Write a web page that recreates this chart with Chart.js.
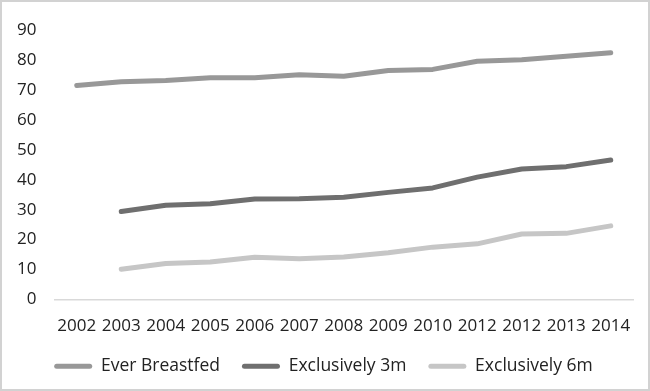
<!DOCTYPE html>
<html>
<head>
<meta charset="utf-8">
<script src="https://cdn.jsdelivr.net/npm/chart.js@4.4.0/dist/chart.umd.min.js"></script>
<style>
  html, body { margin: 0; padding: 0; background: #fff; }
  #wrap {
    width: 650px; height: 391px; box-sizing: border-box;
    border: 2px solid #d2d2d2; background: #fff;
  }
  canvas { display: block; }
</style>
</head>
<body>
<div id="wrap"><canvas id="myChart" width="646" height="387"></canvas></div>
<script>
const years = ['2002', '2003', '2004', '2005', '2006', '2007', '2008', '2009', '2010', '2012', '2012', '2013', '2014'];
const everBreastfed = [71.5, 72.8, 73.2, 74.1, 74.1, 75.1, 74.6, 76.5, 76.9, 79.6, 80.1, 81.3, 82.5];
const exclusively3m = [null, 29.4, 31.5, 32.0, 33.6, 33.7, 34.2, 35.8, 37.3, 40.9, 43.6, 44.4, 46.6];
const exclusively6m = [null, 10.1, 12.0, 12.5, 14.1, 13.6, 14.2, 15.6, 17.5, 18.6, 21.9, 22.1, 24.6];
const yTicks = [0, 10, 20, 30, 40, 50, 60, 70, 80, 90];

const font = "'Open Sans', 'Liberation Sans', sans-serif";

function series(label, data, color) {
    return {
        label: label,
        data: data,
        borderColor: color,
        backgroundColor: color,
        borderWidth: 5,
        borderCapStyle: 'round',
        borderJoinStyle: 'round',
        pointRadius: 0,
        tension: 0
    };
}

const ctx = document.getElementById('myChart');

new Chart(ctx, {
    type: 'line',
    data: {
        labels: years,
        datasets: [
            series('Ever Breastfed', everBreastfed, '#989898'),
            series('Exclusively 3m', exclusively3m, '#6f6f6f'),
            series('Exclusively 6m', exclusively6m, '#c6c6c6')
        ]
    },
    options: {
        responsive: false,
        animation: false,
        layout: {
            autoPadding: false,
            padding: { top: 19, left: 12, right: 15, bottom: 4 }
        },
        plugins: {
            tooltip: { enabled: false },
            legend: {
                position: 'bottom',
                labels: {
                    boxWidth: 38,
                    boxHeight: 5,
                    padding: 22,
                    color: '#222',
                    font: { family: font, size: 17.5 },
                    generateLabels: function (chart) {
                        var items = Chart.defaults.plugins.legend.labels.generateLabels(chart);
                        items.forEach(function (it) {
                            it.lineWidth = 0;
                            it.borderRadius = 2.5;
                        });
                        return items;
                    }
                }
            }
        },
        scales: {
            x: {
                offset: true,
                grid: { display: false, drawTicks: false },
                border: { display: true, color: '#d9d9d9', width: 1.5 },
                ticks: {
                    color: '#222',
                    padding: 16,
                    maxRotation: 0,
                    autoSkip: false,
                    font: { family: font, size: 17 }
                },
                afterFit: function (scale) { scale.height = 36; }
            },
            y: {
                min: 0,
                max: 90,
                afterBuildTicks: function (scale) {
                    scale.ticks = yTicks.map(v => ({ value: v }));
                },
                grid: { display: false, drawTicks: false },
                border: { display: false },
                ticks: {
                    color: '#222',
                    padding: 18,
                    font: { family: font, size: 17 }
                },
                afterFit: function (scale) { scale.width = 40.5; }
            }
        }
    }
});
</script>
</body>
</html>
